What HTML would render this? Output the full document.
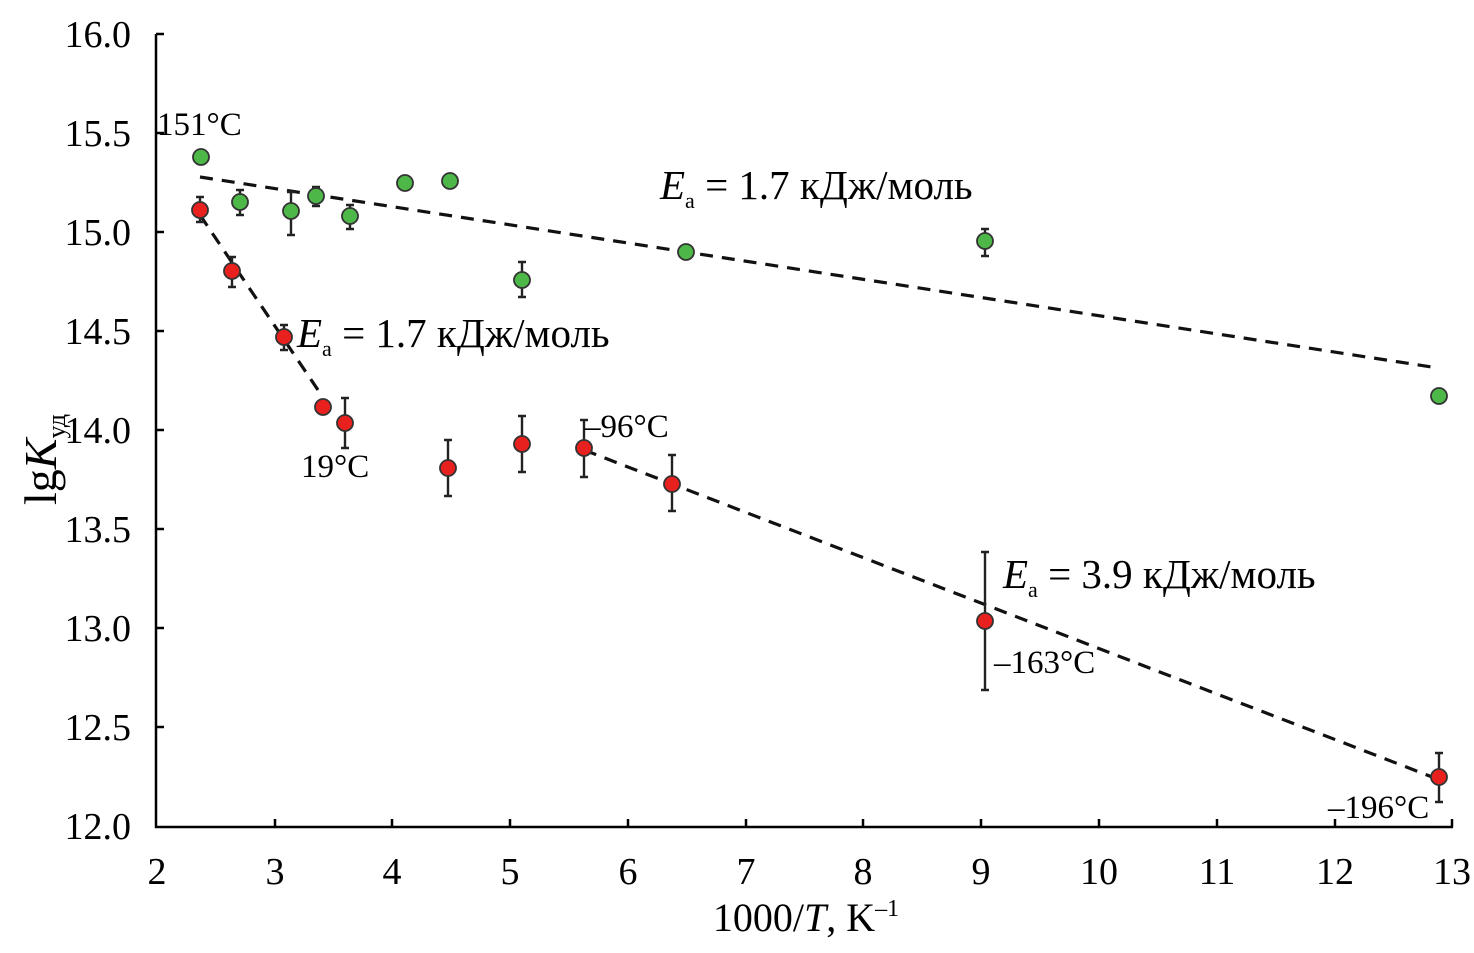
<!DOCTYPE html>
<html><head><meta charset="utf-8"><style>
html,body{margin:0;padding:0;background:#fff;}
svg{display:block;font-family:"Liberation Serif",serif;}
</style></head><body>
<svg width="1474" height="953" viewBox="0 0 1474 953">
<g stroke="#000" stroke-width="2.5" fill="none">
<path d="M156,34 V827 H1453"/>
<path d="M156,34 h8 M156,133 h8 M156,232 h8 M156,331 h8 M156,430 h8 M156,529 h8 M156,628 h8 M156,727 h8"/>
<path d="M275,827 v-8 M392,827 v-8 M510,827 v-8 M628,827 v-8 M746,827 v-8 M863,827 v-8 M981,827 v-8 M1099,827 v-8 M1217,827 v-8 M1335,827 v-8 M1452,827 v-8"/>
</g>
<g font-size="38" text-anchor="end" fill="#000">
<text x="131" y="47">16.0</text><text x="131" y="146">15.5</text><text x="131" y="245">15.0</text><text x="131" y="344">14.5</text><text x="131" y="443">14.0</text><text x="131" y="542">13.5</text><text x="131" y="641">13.0</text><text x="131" y="740">12.5</text><text x="131" y="839">12.0</text>
</g>
<g font-size="38" text-anchor="middle" fill="#000">
<text x="157" y="884">2</text><text x="275" y="884">3</text><text x="392" y="884">4</text><text x="510" y="884">5</text><text x="628" y="884">6</text><text x="746" y="884">7</text><text x="863" y="884">8</text><text x="981" y="884">9</text><text x="1099" y="884">10</text><text x="1217" y="884">11</text><text x="1335" y="884">12</text><text x="1452" y="884">13</text>
</g>
<text x="806" y="931" font-size="40" text-anchor="middle">1000/<tspan font-style="italic">T</tspan>, K<tspan font-size="24" dy="-15">–1</tspan></text>
<text transform="translate(56,505) rotate(-90)" font-size="46">lg<tspan font-style="italic">K</tspan><tspan font-size="26" dy="9">уд</tspan></text>
<g stroke="#111" stroke-width="3.2" stroke-dasharray="13,9" fill="none">
<path d="M200,177 L1438,368"/>
<path d="M200,215 L318,390"/>
<path d="M584,450 L1440,780"/>
</g>
<g stroke="#222" stroke-width="2.4">
<path d="M240,190V215M236,190h8M236,215h8"/>
<path d="M291,192V235M287,192h8M287,235h8"/>
<path d="M316,187V206M312,187h8M312,206h8"/>
<path d="M350,205V229M346,205h8M346,229h8"/>
<path d="M522,262V297M518,262h8M518,297h8"/>
<path d="M985,229V256M981,229h8M981,256h8"/>
<path d="M200,197V222M196,197h8M196,222h8"/>
<path d="M232,257V287M228,257h8M228,287h8"/>
<path d="M284,325V350M280,325h8M280,350h8"/>
<path d="M345,398V448M341,398h8M341,448h8"/>
<path d="M448,440V496M444,440h8M444,496h8"/>
<path d="M522,416V472M518,416h8M518,472h8"/>
<path d="M584,420V477M580,420h8M580,477h8"/>
<path d="M672,455V511M668,455h8M668,511h8"/>
<path d="M985,552V690M981,552h8M981,690h8"/>
<path d="M1439,753V802M1435,753h8M1435,802h8"/>
</g>
<g fill="#4db848" stroke="#333" stroke-width="1.8">
<circle cx="201" cy="157" r="8"/><circle cx="240" cy="202" r="8"/><circle cx="291" cy="211" r="8"/><circle cx="316" cy="196" r="8"/><circle cx="350" cy="216" r="8"/><circle cx="405" cy="183" r="8"/><circle cx="450" cy="181" r="8"/><circle cx="522" cy="280" r="8"/><circle cx="686" cy="252" r="8"/><circle cx="985" cy="241" r="8"/><circle cx="1439" cy="396" r="8"/>
</g>
<g fill="#e8211f" stroke="#333" stroke-width="1.8">
<circle cx="200" cy="210" r="8"/><circle cx="232" cy="271" r="8"/><circle cx="284" cy="337" r="8"/><circle cx="323" cy="407" r="8"/><circle cx="345" cy="423" r="8"/><circle cx="448" cy="468" r="8"/><circle cx="522" cy="444" r="8"/><circle cx="584" cy="448" r="8"/><circle cx="672" cy="484" r="8"/><circle cx="985" cy="621" r="8"/><circle cx="1439" cy="777" r="8"/>
</g>
<g font-size="33" fill="#000">
<text x="157" y="135">151°C</text>
<text x="301" y="477">19°C</text>
<text x="584" y="437">–96°C</text>
<text x="994" y="673">–163°C</text>
<text x="1328" y="818">–196°C</text>
</g>
<g font-size="41" fill="#000">
<text x="660" y="199"><tspan font-style="italic">E</tspan><tspan font-size="22" dy="9">a</tspan><tspan dy="-9"> = 1.7 кДж/моль</tspan></text>
<text x="297" y="347"><tspan font-style="italic">E</tspan><tspan font-size="22" dy="9">a</tspan><tspan dy="-9"> = 1.7 кДж/моль</tspan></text>
<text x="1003" y="588"><tspan font-style="italic">E</tspan><tspan font-size="22" dy="9">a</tspan><tspan dy="-9"> = 3.9 кДж/моль</tspan></text>
</g>
</svg>
</body></html>
